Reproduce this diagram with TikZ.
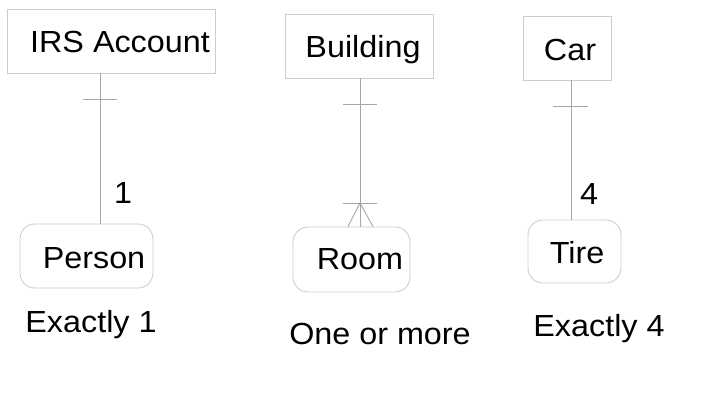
\documentclass[tikz,border=0pt]{standalone}
\usepackage{fontspec}
\setmainfont{Liberation Sans}[FakeStretch=1.06]
\usetikzlibrary{calc}
\definecolor{boxgray}{RGB}{205,205,205}
\definecolor{linegray}{RGB}{165,165,165}
\tikzset{
  ent/.style={draw=boxgray, line width=0.9pt, inner sep=0pt, minimum width=#1},
  roundent/.style={ent=#1, rounded corners=15pt},
  txt/.style={inner sep=0pt, anchor=base, font=\fontsize{30.5}{36}\selectfont},
  conn/.style={draw=linegray, line width=0.9pt},
}
\begin{document}
\begin{tikzpicture}[x=1pt,y=-1pt]
\useasboundingbox (0,0) rectangle (719,400);
% boxes
\node[ent=208pt, minimum height=64pt] (irs) at (111,41) {};
\node[roundent=133pt, minimum height=64pt] (person) at (86.5,256) {};
\node[ent=148pt, minimum height=64pt] (building) at (359,46) {};
\node[roundent=117pt, minimum height=65pt] (room) at (351.5,259.5) {};
\node[ent=88pt, minimum height=64pt] (car) at (567,48) {};
\node[roundent=93pt, minimum height=63pt] (tire) at (574.5,251.5) {};
% box texts
\node[txt] (irst) at (120,52) {IRS Account};
\node[txt] (persont) at (94,268) {Person};
\node[txt] (buildingt) at (363,57) {Building};
\node[txt] (roomt) at (360,269) {Room};
\node[txt] (cart) at (570,60) {Car};
\node[txt] (tiret) at (577,263) {Tire};
% connectors
\coordinate (a1) at ([xshift=-11pt]irs.south);
\coordinate (a2) at (a1 |- person.north);
\draw[conn] (a1) -- (a2);
\coordinate (a3) at (a1 |- 0,99);
\draw[conn] ([xshift=-17pt]a3) -- ([xshift=17pt]a3);

\coordinate (b1) at ([xshift=1pt]building.south);
\coordinate (b2) at (b1 |- room.north);
\draw[conn] (b1) -- (b2);
\coordinate (b3) at (b1 |- 0,104);
\draw[conn] ([xshift=-17pt]b3) -- ([xshift=17pt]b3);
\coordinate (b4) at (b1 |- 0,203);
\draw[conn] ([xshift=-17pt]b4) -- ([xshift=17pt]b4);
\draw[conn] ([xshift=-12pt]b2) -- (b4) -- ([xshift=13pt]b2);

\coordinate (c1) at ([xshift=4pt]car.south);
\coordinate (c2) at (c1 |- tire.north);
\draw[conn] (c1) -- (c2);
\coordinate (c3) at (c1 |- 0,106);
\draw[conn] ([xshift=-18pt]c3) -- ([xshift=17pt]c3);
% multiplicity labels
\node[txt] (one) at (123,203) {1};
\node[txt] (four) at (589,204) {4};
% captions
\node[txt] (cap1) at (91,332) {Exactly 1};
\node[txt] (cap2) at (380,344) {One or more};
\node[txt] (cap3) at (599,336) {Exactly 4};
\end{tikzpicture}
\end{document}
